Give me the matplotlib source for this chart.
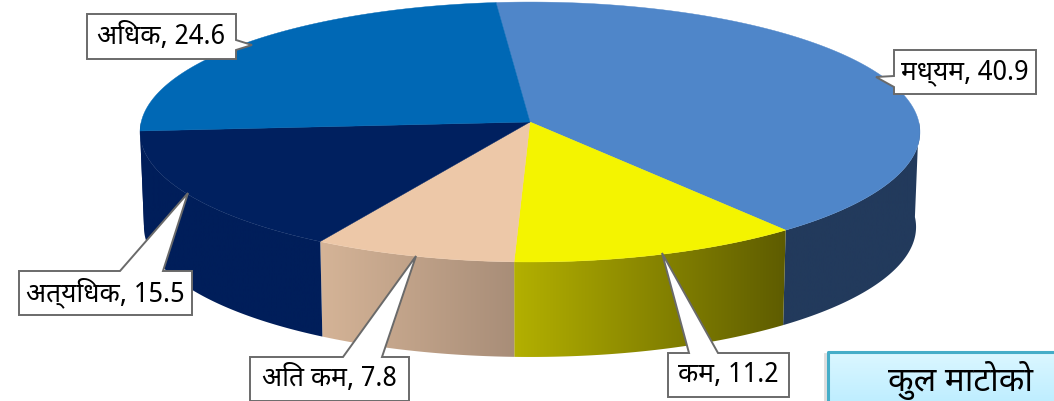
import re
import numpy as np
import matplotlib
matplotlib.use('Agg')
import matplotlib.pyplot as plt
from matplotlib.patches import Polygon

plt.rcParams['font.family'] = ['Noto Sans Devanagari', 'Noto Sans', 'DejaVu Sans']

labels = ['मध्यम', 'कम', 'अति कम', 'अत्यधिक', 'अधिक']
values = [40.9, 11.2, 7.8, 15.5, 24.6]
top_colors = ['#4f86c9', '#f4f400', '#edc8a8', '#00205f', '#0068b5']
side_left = ['#223a5c', '#b3b000', '#d5b497', '#001e5a', '#001e5a']
side_right = ['#223a5c', '#5e5c00', '#a88d78', '#001e5a', '#001e5a']
note_text = 'कुल माटोको'

# callouts: box x0, x1, y0, y1, then the pointer tip and its two base points
callouts = [
    (894, 1036, 50, 94, (876, 77), (894, 76), (894, 87)),
    (668, 789, 353, 397, (662, 253), (689, 353), (718, 353)),
    (250, 409, 357, 401, (416, 256), (343, 357), (382, 357)),
    (19, 192, 271, 315, (188, 193), (120, 271), (163, 271)),
    (87, 236, 14, 59, (252, 45), (236, 40), (236, 50)),
]

# pie geometry in picture pixels
cx, cy = 530, 122
a, b, p = 388.8, 129.2, 0.0769
depth = 95
start_angle = -5.4


def rim(theta, squeeze=1.0, drop=0):
    t = np.radians(theta)
    u, v = np.sin(t), np.cos(t)
    d = 1 + p * v
    return cx + squeeze * a * u / d, cy - b * v / d + drop


def visual(s):
    # matplotlib does no shaping, so the i-matra has to go in front of its consonant
    return re.sub('(.)\u093f', '\u093f\\1', s)


fig = plt.figure(figsize=(10.54, 4.01), dpi=100)
ax = fig.add_axes([0, 0, 1, 1])
ax.axis('off')

angles = start_angle + np.concatenate([[0], np.cumsum(values)]) * 3.6

# sides first, only the front part of the rim can be seen
for i in range(len(values)):
    t0v, t1v = max(angles[i], 90), min(angles[i + 1], 270)
    if t1v <= t0v:
        continue
    th = np.linspace(t0v, t1v, 120)
    x1, y1 = rim(th)
    x2, y2 = rim(th[::-1], 0.99, depth)
    poly = Polygon(np.column_stack([np.r_[x1, x2], np.r_[y1, y2]]), closed=True,
                   fc='none', ec='none')
    ax.add_patch(poly)
    c0 = np.array(matplotlib.colors.to_rgb(side_left[i]))
    c1 = np.array(matplotlib.colors.to_rgb(side_right[i]))
    g = np.linspace(0, 1, 256)[:, None]
    img = (c0 + (c1 - c0) * g)[None, :, :]
    im = ax.imshow(img, extent=[min(x1.min(), x2.min()), max(x1.max(), x2.max()), 401, 0],
                   aspect='auto', zorder=1)
    im.set_clip_path(poly)

# top faces
for i in range(len(values)):
    th = np.linspace(angles[i], angles[i + 1], 200)
    x, y = rim(th)
    ax.add_patch(Polygon(np.column_stack([np.r_[cx, x], np.r_[cy, y]]), closed=True,
                         fc=top_colors[i], ec=top_colors[i], lw=0.3, zorder=2))

# data callouts
for lab, val, c in zip(labels, values, callouts):
    x0, x1, y0, y1, tip, b0, b1 = c
    if b0[0] == x0:
        pts = [(x0, y0), (x1, y0), (x1, y1), (x0, y1), b1, tip, b0]
    elif b0[0] == x1:
        pts = [(x0, y0), (x1, y0), b0, tip, b1, (x1, y1), (x0, y1)]
    else:
        pts = [(x0, y0), b0, tip, b1, (x1, y0), (x1, y1), (x0, y1)]
    ax.add_patch(Polygon(pts, closed=True, fc='white', ec='#6a6a6a', lw=1.4, zorder=3))
    ax.text((x0 + x1) / 2, (y0 + y1) / 2, visual(f'{lab}, {val}'), fontsize=19, color='black',
            ha='center', va='center', zorder=4)

# text box cut off by the picture edge
g = np.linspace(0, 1, 64)[:, None]
c0 = np.array(matplotlib.colors.to_rgb('#dbf7ff'))
c1 = np.array(matplotlib.colors.to_rgb('#bfeeff'))
ax.imshow((c0 + (c1 - c0) * g)[:, None, :], extent=[828, 1054, 401, 352], aspect='auto', zorder=3)
ax.plot([825, 825], [354, 401], color='#dddddd', lw=2, zorder=2.5)
ax.plot([1054, 828, 828], [352, 352, 401], color='#45adc8', lw=2.2, zorder=4)
ax.text(888, 380, note_text, fontsize=24, color='black', ha='left', va='center', zorder=5)

ax.set_xlim(0, 1054)
ax.set_ylim(401, 0)
fig.savefig('out.png', dpi=100)
